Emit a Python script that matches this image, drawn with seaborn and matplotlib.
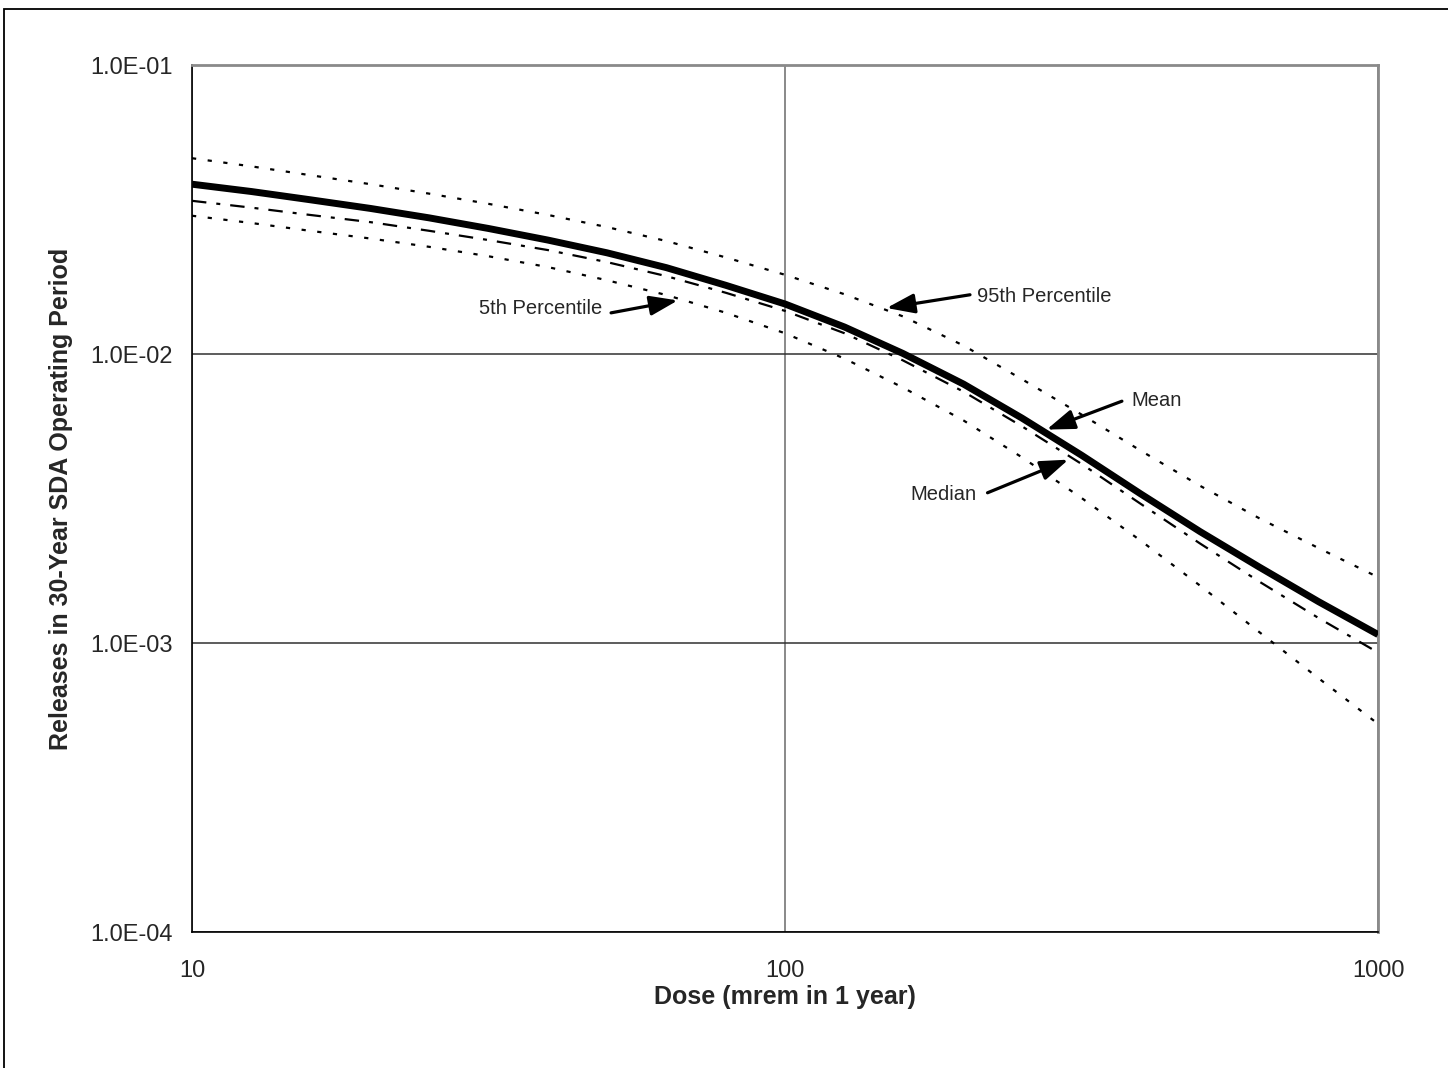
import numpy as np
import pandas as pd
import matplotlib
matplotlib.use("Agg")
import matplotlib.pyplot as plt
import matplotlib.ticker as mticker
from matplotlib.patches import Rectangle
import seaborn as sns

# Dose (mrem in 1 year)
dose = [10, 12.6, 15.8, 20, 25.1, 31.6, 39.8, 50.1, 63.1, 79.4, 100,
        126, 158, 200, 251, 316, 398, 501, 631, 794, 1000]

# Releases in 30-year SDA operating period
mean_rel = [0.0387, 0.0365, 0.0342, 0.0319, 0.0296, 0.0272, 0.0248, 0.0224, 0.0199,
            0.0173, 0.0149, 0.0124, 0.01005, 0.00787, 0.00600, 0.00447, 0.00328,
            0.00243, 0.00183, 0.00139, 0.00107]
median_rel = [0.0339, 0.0321, 0.0303, 0.0286, 0.0267, 0.0248, 0.0229, 0.0208, 0.0186,
              0.0163, 0.0141, 0.0118, 0.00951, 0.00741, 0.00562, 0.00417, 0.00303,
              0.00221, 0.00163, 0.00122, 0.000927]
p95_rel = [0.0476, 0.0446, 0.0416, 0.0387, 0.0359, 0.0331, 0.0303, 0.0275, 0.0246,
           0.0216, 0.0188, 0.0161, 0.0135, 0.0107, 0.00818, 0.00618, 0.00463,
           0.00350, 0.00270, 0.00213, 0.00169]
p05_rel = [0.0301, 0.0284, 0.0267, 0.0251, 0.0235, 0.0218, 0.0200, 0.0180, 0.0160,
           0.0139, 0.0118, 0.00964, 0.00766, 0.00589, 0.00439, 0.00318, 0.00226,
           0.00158, 0.00109, 0.000755, 0.000525]

y_ticks = [1e-4, 1e-3, 1e-2, 1e-1]
x_ticks = [10, 100, 1000]

sns.set_style("white")
plt.rcParams["font.family"] = ["Liberation Sans", "DejaVu Sans"]

df = pd.DataFrame({"dose": dose, "Mean": mean_rel, "Median": median_rel,
                   "95th": p95_rel, "5th": p05_rel})

fig = plt.figure(figsize=(14.48, 10.68), dpi=100)
ax = fig.add_axes([0.1326, 0.1273, 0.8191, 0.8118])

dot = (0, (1.9, 5.2))
sns.lineplot(data=df, x="dose", y="95th", ax=ax, color="black", lw=1.6,
             linestyle=dot, zorder=3)
sns.lineplot(data=df, x="dose", y="5th", ax=ax, color="black", lw=1.6,
             linestyle=dot, zorder=3)
sns.lineplot(data=df, x="dose", y="Median", ax=ax, color="black", lw=1.6,
             linestyle=(0, (6.5, 4.5, 1.8, 4.5)), zorder=3)
sns.lineplot(data=df, x="dose", y="Mean", ax=ax, color="black", lw=5,
             solid_capstyle="butt", solid_joinstyle="round", zorder=4)

ax.set_xscale("log")
ax.set_yscale("log")
ax.set_xlim(10, 1000)
ax.set_ylim(1e-4, 1e-1)
ax.xaxis.set_major_locator(mticker.FixedLocator(x_ticks))
ax.yaxis.set_major_locator(mticker.FixedLocator(y_ticks))
ax.xaxis.set_minor_locator(mticker.NullLocator())
ax.yaxis.set_minor_locator(mticker.NullLocator())
ax.xaxis.set_major_formatter(mticker.FuncFormatter(lambda v, p: f"{v:.0f}"))
ax.yaxis.set_major_formatter(mticker.FuncFormatter(lambda v, p: f"{v:.1E}"))

ax.tick_params(axis="both", which="major", direction="out", length=5,
               width=1, color="black", labelsize=17)
ax.tick_params(axis="x", pad=15)
ax.tick_params(axis="y", pad=9)

ax.yaxis.grid(True, color="#303030", lw=1.1)
ax.xaxis.grid(True, color="#808080", lw=1.3)
ax.set_axisbelow(True)
for side in ["left", "bottom"]:
    ax.spines[side].set_color("black")
    ax.spines[side].set_linewidth(1.2)
for side in ["top", "right"]:
    ax.spines[side].set_color("#8a8a8a")
    ax.spines[side].set_linewidth(2)

ax.set_xlabel("Dose (mrem in 1 year)", fontsize=18, fontweight="bold", labelpad=2)
ax.set_ylabel("Releases in 30-Year SDA Operating Period", fontsize=18,
              fontweight="bold", labelpad=12)

# curve labels with arrows: (text, series, dose at arrow tip, tail offset, text offset, ha)
notes = [
    ("95th Percentile", p95_rel, 146, (63, 10), (68, 8.5), "left"),
    ("5th Percentile", p05_rel, 67, (-51, -9.5), (-57.5, -6.5), "right"),
    ("Mean", mean_rel, 272, (57, 21.5), (64, 22), "left"),
    ("Median", median_rel, 305, (-61, -25), (-69, -26), "right"),
]
log_dose = np.log10(dose)
for label, series, x_tip, tail, toff, ha in notes:
    y_tip = 10 ** np.interp(np.log10(x_tip), log_dose, np.log10(series))
    ax.annotate("", xy=(x_tip, y_tip), xytext=tail, textcoords="offset points",
                arrowprops=dict(arrowstyle="-|>,head_length=0.85,head_width=0.3",
                                mutation_scale=20, color="black", lw=2.3,
                                shrinkA=0, shrinkB=3),
                zorder=5)
    ax.annotate(label, xy=(x_tip, y_tip), xytext=toff, textcoords="offset points",
                ha=ha, va="center", fontsize=14.5, zorder=5)

# chart-area frame (only left and top edges fall inside the picture)
fig.patches.append(Rectangle((0.0028, -0.2), 1.2, 1.1916, transform=fig.transFigure,
                             fill=False, edgecolor="black", lw=1.3))

fig.savefig("out.png", dpi=100)
plt.close(fig)
